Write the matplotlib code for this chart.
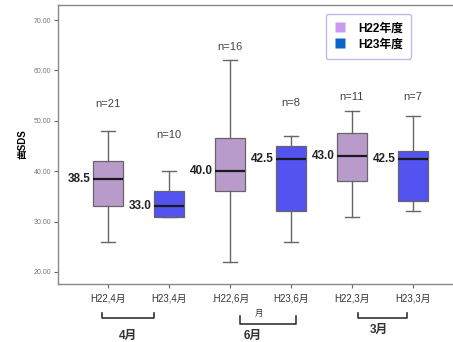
import matplotlib
matplotlib.use("Agg")
import matplotlib.pyplot as plt
import matplotlib.transforms as mtransforms
from matplotlib.lines import Line2D

plt.rcParams['font.family'] = ['Liberation Sans', 'Noto Sans CJK JP', 'DejaVu Sans']

# ---- data ----
categories = ["H22,4月", "H23,4月", ".H22,6月", "H23,6月", "H22,3月", "H23,3月"]
groups = ["H22", "H23", "H22", "H23", "H22", "H23"]
whisker_lo = [26, 31, 22, 26, 31, 32]
q1 = [33, 31, 36, 32, 38, 34]
median = [38.5, 33.0, 40.0, 42.5, 43.0, 42.5]
q3 = [42, 36, 46.5, 45, 47.5, 44]
whisker_hi = [48, 40, 62, 47, 52, 51]
n_counts = [21, 10, 16, 8, 11, 7]
yticks = [20, 30, 40, 50, 60, 70]
legend_labels = ["H22年度", "H23年度"]
ylabel = "歯SDS"
bracket_labels = ["4月", "6月", "3月"]

box_colors = {"H22": "#B99BCB", "H23": "#5353F2"}
legend_colors = {"H22": "#C89BF0", "H23": "#0A66C8"}

fig = plt.figure(figsize=(4.53, 3.42), dpi=100)
ax = fig.add_axes([58/453, 58/342, 1 - 58/453, 279/342])

positions = list(range(1, len(categories) + 1))
stats = []
for i in range(len(categories)):
    stats.append(dict(med=median[i], q1=q1[i], q3=q3[i],
                      whislo=whisker_lo[i], whishi=whisker_hi[i], fliers=[]))

bp = ax.bxp(stats, positions=positions, widths=0.5, patch_artist=True,
            showfliers=False, capwidths=0.23,
            boxprops=dict(edgecolor="#666666", linewidth=0.9),
            whiskerprops=dict(color="#666666", linewidth=1.0),
            capprops=dict(color="#666666", linewidth=1.0),
            medianprops=dict(color="#1a1a1a", linewidth=1.6))
for patch, g in zip(bp["boxes"], groups):
    patch.set_facecolor(box_colors[g])

# median labels
for p, m in zip(positions, median):
    ax.text(p - 0.28, m, f"{m:.1f}", ha="right", va="center",
            fontsize=8.5, fontweight="bold", color="#222222")

# n labels
n_offsets = [5.3, 7.2, 2.6, 6.5, 2.7, 3.7]
for p, hi, n, off in zip(positions, whisker_hi, n_counts, n_offsets):
    ax.text(p, hi + off, f"n={n}", ha="center", va="center",
            fontsize=8, color="#444444")

ax.set_xlim(0.18, 6.66)
ax.set_ylim(17.6, 73.0)
ax.set_yticks(yticks)
ax.set_yticklabels([f"{t:.2f}" for t in yticks], fontsize=5, color="#777777")
ax.set_xticks(positions)
ax.set_xticklabels(categories, fontsize=7, color="#333333")
ax.tick_params(axis="both", length=3, width=0.8, color="#666666", pad=2)
ax.tick_params(axis="x", pad=4)
ax.set_ylabel(ylabel, fontsize=7, fontweight="bold", labelpad=4)

for s in ["left", "top", "bottom"]:
    ax.spines[s].set_color("#888888")
    ax.spines[s].set_linewidth(1.0)
ax.spines["right"].set_visible(False)

# brackets
trans = mtransforms.blended_transform_factory(ax.transData, ax.transAxes)
brackets = [(0.90, 1.75, -0.122, -0.104), (3.16, 4.08, -0.143, -0.115), (5.10, 5.90, -0.122, -0.104)]
for (x0, x1, yb, yt) in brackets:
    ax.plot([x0, x0, x1, x1], [yt, yb, yb, yt], color="#333333", lw=1.2,
            transform=trans, clip_on=False)
ax.text(1.33, -0.185, bracket_labels[0], transform=trans, ha="center", va="center",
        fontsize=8.5, fontweight="bold", color="#333333")
ax.text(3.48, -0.108, "月", transform=trans, ha="center", va="center",
        fontsize=6, color="#333333")
ax.text(3.38, -0.185, bracket_labels[1], transform=trans, ha="center", va="center",
        fontsize=8.5, fontweight="bold", color="#333333")
ax.text(5.45, -0.165, bracket_labels[2], transform=trans, ha="center", va="center",
        fontsize=8.5, fontweight="bold", color="#333333")

# legend
handles = [Line2D([], [], marker="s", linestyle="none", markersize=7,
                  markerfacecolor=legend_colors[g], markeredgecolor="none")
           for g in ["H22", "H23"]]
leg = ax.legend(handles, legend_labels, loc="upper left",
                bbox_to_anchor=((326 - 58) / 395, (284 - 14) / 279),
                frameon=True, prop=dict(weight="bold", size=8.5),
                handlelength=1.0, handletextpad=1.0, borderpad=0.7,
                labelspacing=0.35, fancybox=True, borderaxespad=0)
leg.get_frame().set_edgecolor("#B0A8F0")
leg.get_frame().set_linewidth(1.0)

fig.savefig("out.png", dpi=100)
